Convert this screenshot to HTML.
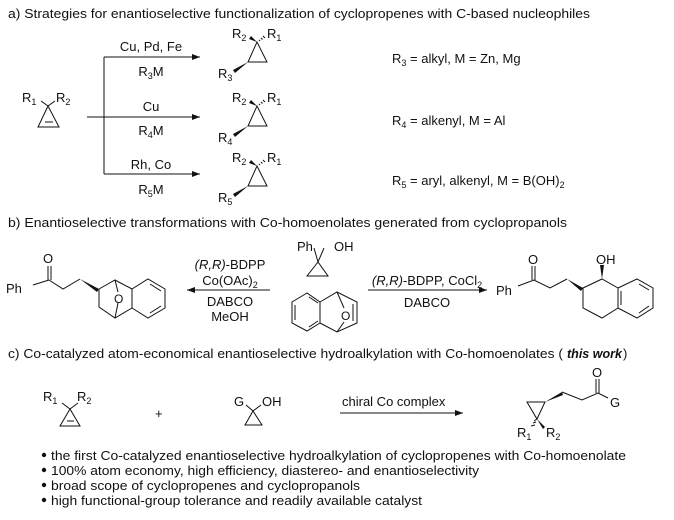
<!DOCTYPE html>
<html><head><meta charset="utf-8"><style>
html,body{margin:0;padding:0;background:#fff;}
svg{display:block;font-family:"Liberation Sans",Arial,sans-serif;}
text{fill:#111;}
</style></head><body>
<svg width="674" height="520" viewBox="0 0 674 520" xmlns="http://www.w3.org/2000/svg">
<defs>
<marker id="ah" markerWidth="8" markerHeight="6" refX="8" refY="3" orient="auto" markerUnits="userSpaceOnUse">
<path d="M0,0 L8,3 L0,6 Z" fill="#111"/></marker>
</defs>
<g font-size="13">
<!-- Section a -->
<text x="8" y="18" textLength="582" lengthAdjust="spacingAndGlyphs">a) Strategies for enantioselective functionalization of cyclopropenes with C-based nucleophiles</text>
<g stroke="#111" stroke-width="1" fill="none">
<line x1="104" y1="57" x2="104" y2="174"/>
<line x1="104" y1="57" x2="200" y2="57" marker-end="url(#ah)"/>
<line x1="87" y1="117" x2="200" y2="117" marker-end="url(#ah)"/>
<line x1="104" y1="174" x2="200" y2="174" marker-end="url(#ah)"/>
<path d="M48,106 L38,127 L59,127 Z M45,122 L53,122 M48,106 L41,101 M48,106 L55,101"/>
</g>
<text x="22" y="102">R<tspan font-size="9" dy="3">1</tspan></text>
<text x="56" y="102">R<tspan font-size="9" dy="3">2</tspan></text>
<g text-anchor="middle">
<text x="151" y="51">Cu, Pd, Fe</text>
<text x="151" y="76">R<tspan font-size="9" dy="3">3</tspan><tspan dy="-3">M</tspan></text>
<text x="151" y="111">Cu</text>
<text x="151" y="135">R<tspan font-size="9" dy="3">4</tspan><tspan dy="-3">M</tspan></text>
<text x="151" y="169">Rh, Co</text>
<text x="151" y="194">R<tspan font-size="9" dy="3">5</tspan><tspan dy="-3">M</tspan></text>
</g>
<g id="pa">
<path d="M257,42 L248,62 L267,62 Z" stroke="#111" fill="none"/>
<path d="M257,42 L251,36 L249,39 Z" fill="#111"/>
<path d="M248,62 L233,70 L235,73 Z" fill="#111"/>
<path d="M259,40 l1,1 M261,38 l1.5,1.5 M263,36 l2,2" stroke="#111"/>
</g>
<text x="232" y="38">R<tspan font-size="9" dy="3">2</tspan></text>
<text x="267" y="38">R<tspan font-size="9" dy="3">1</tspan></text>
<text x="218" y="78">R<tspan font-size="9" dy="3">3</tspan></text>
<use href="#pa" y="64"/>
<text x="232" y="102">R<tspan font-size="9" dy="3">2</tspan></text>
<text x="267" y="102">R<tspan font-size="9" dy="3">1</tspan></text>
<text x="218" y="142">R<tspan font-size="9" dy="3">4</tspan></text>
<use href="#pa" y="124"/>
<text x="232" y="162">R<tspan font-size="9" dy="3">2</tspan></text>
<text x="267" y="162">R<tspan font-size="9" dy="3">1</tspan></text>
<text x="218" y="202">R<tspan font-size="9" dy="3">5</tspan></text>
<text x="392" y="63">R<tspan font-size="9" dy="3">3</tspan><tspan dy="-3"> = alkyl, M = Zn, Mg</tspan></text>
<text x="392" y="125">R<tspan font-size="9" dy="3">4</tspan><tspan dy="-3"> = alkenyl, M = Al</tspan></text>
<text x="392" y="185">R<tspan font-size="9" dy="3">5</tspan><tspan dy="-3"> = aryl, alkenyl, M = B(OH)</tspan><tspan font-size="9" dy="3">2</tspan></text>

<!-- Section b -->
<text x="8" y="227" textLength="559" lengthAdjust="spacingAndGlyphs">b) Enantioselective transformations with Co-homoenolates generated from cyclopropanols</text>
<g stroke="#111" fill="none">
<path d="M49,280 L63,289 L80,279 M33,285 L49,280"/>
<path d="M48,266 L48,280 M51,266 L51,280"/>
<path d="M99,289 L115,280 L132,289 M99,289 L99,307 L115,318 L132,308 M132,289 L132,308"/>
<path d="M132,289 L148,279 L165,289 L165,308 L148,318 L132,308 M150,284 L161,291 M161,306 L150,313"/>
<path d="M115,280 L118,292 M118,303 L115,318"/>
</g>
<path d="M80,279 L99,289 L97,292 Z" fill="#111"/>
<text x="43" y="263">O</text>
<text x="6" y="293">Ph</text>
<text x="114" y="303" font-size="12">O</text>
<line x1="270" y1="290" x2="187" y2="290" stroke="#111" marker-end="url(#ah)"/>
<g text-anchor="middle">
<text x="230" y="269"><tspan font-style="italic">(R,R)</tspan>-BDPP</text>
<text x="230" y="285">Co(OAc)<tspan font-size="9" dy="3">2</tspan></text>
<text x="230" y="306">DABCO</text>
<text x="230" y="321">MeOH</text>
</g>
<text x="297" y="251">Ph</text>
<text x="334" y="251">OH</text>
<path d="M314,248 L318,262 L324,248 M318,262 L307,276 L328,276 Z" stroke="#111" fill="none"/>
<g stroke="#111" fill="none">
<path d="M307,293 L292,302 L292,323 L307,331 L320,323 L320,302 Z M295,305 L295,320 M309,297 L318,303 M309,327 L318,321"/>
<path d="M320,302 L337,292 L357,302 L357,323 L337,332 L320,323 M353,304 L353,321"/>
<path d="M337,292 L344,308 M344,322 L337,332"/>
</g>
<text x="341" y="320" font-size="12">O</text>
<line x1="368" y1="290" x2="487" y2="290" stroke="#111" marker-end="url(#ah)"/>
<g text-anchor="middle">
<text x="427" y="285"><tspan font-style="italic">(R,R)</tspan>-BDPP, CoCl<tspan font-size="9" dy="3">2</tspan></text>
<text x="427" y="307">DABCO</text>
</g>
<g stroke="#111" fill="none">
<path d="M518,286 L534,280 L550,288 L567,279"/>
<path d="M532,266 L532,280 M535,266 L535,280"/>
<path d="M583,288 L602,279 L618,288 L618,308 L602,318 L583,308 Z"/>
<path d="M618,288 L637,279 L653,288 L653,308 L637,318 L618,308 M639,284 L649,290 M649,306 L639,313 M621,291 L621,305"/>
</g>
<path d="M567,279 L583,288 L581,291 Z" fill="#111"/>
<path d="M602,279 L600,265 L604,265 Z" fill="#111"/>
<text x="528" y="264">O</text>
<text x="496" y="295">Ph</text>
<text x="596" y="264">OH</text>

<!-- Section c -->
<text x="8" y="358" textLength="555" lengthAdjust="spacingAndGlyphs">c) Co-catalyzed atom-economical enantioselective hydroalkylation with Co-homoenolates (</text>
<text x="567" y="358" font-weight="bold" font-style="italic" textLength="55" lengthAdjust="spacingAndGlyphs">this work</text>
<text x="623" y="358">)</text>
<g stroke="#111" fill="none">
<path d="M70,409 L60,426 L80,426 Z M67,421 L74,421 M70,409 L62,403 M70,409 L78,403"/>
<path d="M253,411 L245,425 L262,425 Z M253,411 L246,405 M253,411 L261,405"/>
</g>
<text x="43" y="401">R<tspan font-size="9" dy="3">1</tspan></text>
<text x="77" y="401">R<tspan font-size="9" dy="3">2</tspan></text>
<text x="155" y="418">+</text>
<text x="234" y="406">G</text>
<text x="262" y="406">OH</text>
<text x="342" y="406">chiral Co complex</text>
<line x1="340" y1="413" x2="463" y2="413" stroke="#111" marker-end="url(#ah)"/>
<g stroke="#111" fill="none">
<path d="M545,402 L527,402 L537,419 Z"/>
<path d="M562,392 L582,400 L598,393 L608,398"/>
<path d="M596,379 L596,393 M599,379 L599,393"/>
<path d="M537,419 l-3,2 M536,422 l-3,1 M535,425 l-4,1"/>
</g>
<path d="M545,402 L562,392 L563,395 Z" fill="#111"/>
<path d="M537,419 L545,427 L543,429 Z" fill="#111"/>
<text x="592" y="377">O</text>
<text x="610" y="407">G</text>
<text x="517" y="437">R<tspan font-size="9" dy="3">1</tspan></text>
<text x="546" y="437">R<tspan font-size="9" dy="3">2</tspan></text>
<circle cx="44" cy="455" r="2.2" fill="#111"/>
<circle cx="44" cy="470" r="2.2" fill="#111"/>
<circle cx="44" cy="485" r="2.2" fill="#111"/>
<circle cx="44" cy="500" r="2.2" fill="#111"/>
<text x="51" y="460" textLength="575" lengthAdjust="spacingAndGlyphs">the first Co-catalyzed enantioselective hydroalkylation of cyclopropenes with Co-homoenolate</text>
<text x="51" y="475" textLength="428" lengthAdjust="spacingAndGlyphs">100% atom economy, high efficiency, diastereo- and enantioselectivity</text>
<text x="51" y="490" textLength="309" lengthAdjust="spacingAndGlyphs">broad scope of cyclopropenes and cyclopropanols</text>
<text x="51" y="505" textLength="371" lengthAdjust="spacingAndGlyphs">high functional-group tolerance and readily available catalyst</text>
</g>
</svg>
</body></html>
